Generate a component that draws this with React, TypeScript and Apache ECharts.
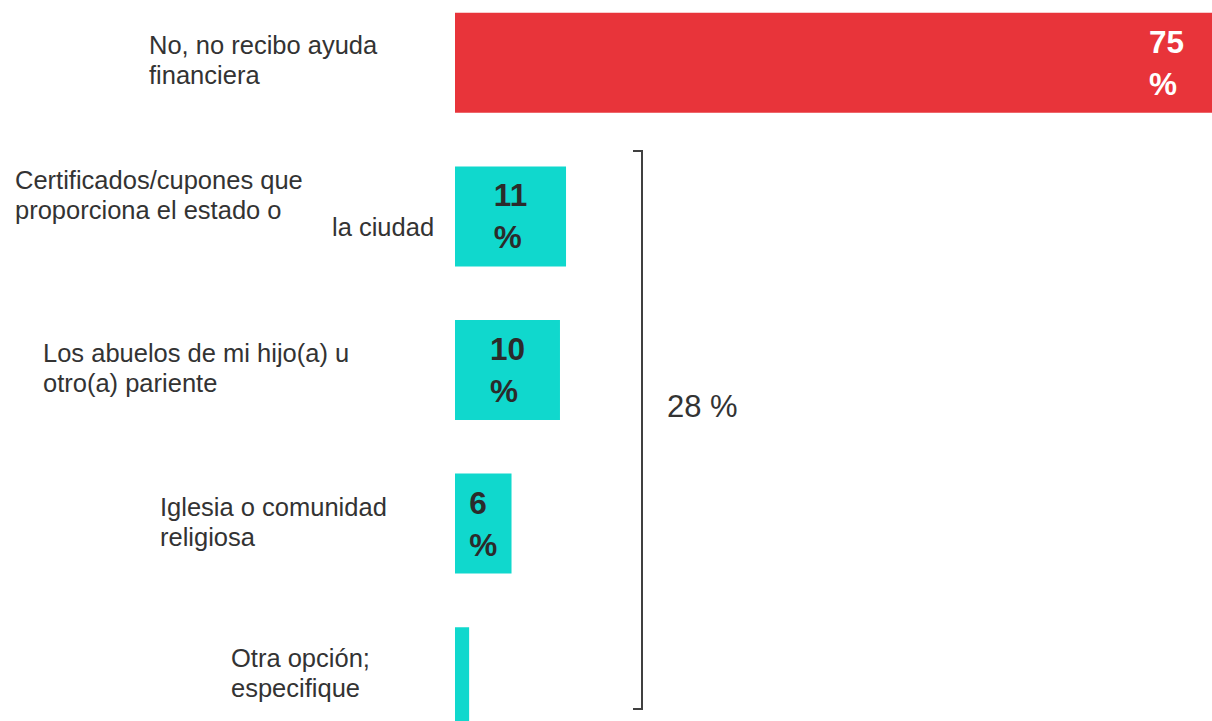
import React, { useEffect, useRef } from "react";
import * as echarts from "echarts";

const categories = [
  "No, no recibo ayuda financiera",
  "Certificados/cupones que proporciona el estado o la ciudad",
  "Los abuelos de mi hijo(a) u otro(a) pariente",
  "Iglesia o comunidad religiosa",
  "Otra opción; especifique",
];
const values = [75, 11, 10.4, 5.6, 1.4];
const barColors = ["#E8343A", "#10D8CD", "#10D8CD", "#10D8CD", "#10D8CD"];
const valueLabels = ["75", "11", "10", "6", ""];
const bracketLabel = "28 %";

const OFFSET = 14; // container starts 14px above the page top

export default function App() {
  const ref = useRef<HTMLDivElement>(null);
  useEffect(() => {
    if (!ref.current) return;
    const chart = echarts.init(ref.current, undefined, { renderer: "svg" });
    const font = "'Liberation Sans', Arial, sans-serif";
    const textColor = "#333333";
    const catText = (text: string, x: number, y: number) => ({
      type: "text",
      x,
      y: y + OFFSET,
      style: {
        text,
        fontFamily: font,
        fontSize: 25.5,
        lineHeight: 30,
        fill: textColor,
        align: "left",
        verticalAlign: "middle",
      },
    });
    chart.setOption({
      animation: false,
      grid: { left: 455, right: 0, top: 0, bottom: 0, containLabel: false },
      xAxis: {
        type: "value",
        min: 0,
        max: 75,
        show: false,
      },
      yAxis: {
        type: "category",
        data: categories,
        inverse: true,
        show: false,
      },
      series: [
        {
          type: "bar",
          barWidth: 100,
          data: values.map((v, i) => ({
            value: v,
            itemStyle: { color: barColors[i] },
            label: {
              show: valueLabels[i] !== "",
              position: i === 0 ? "insideRight" : "inside",
              distance: 28,
              formatter: valueLabels[i] ? `{a|${valueLabels[i]}}\n{a|%}` : "",
              rich: {
                a: {
                  align: "left",
                  fontFamily: font,
                  fontSize: 31.5,
                  fontWeight: "bold",
                  lineHeight: 42,
                  color: i === 0 ? "#ffffff" : "#2b2b2b",
                },
              },
            },
          })),
        },
      ],
      graphic: [
        catText("No, no recibo ayuda\nfinanciera", 149, 60),
        catText("Certificados/cupones que\nproporciona el estado o", 15, 195),
        catText("la ciudad", 332, 227),
        catText("Los abuelos de mi hijo(a) u\notro(a) pariente", 43, 368),
        catText("Iglesia o comunidad\nreligiosa", 160, 522),
        catText("Otra opción;\nespecifique", 231, 673),
        {
          type: "polyline",
          shape: {
            points: [
              [633, 151 + OFFSET],
              [642, 151 + OFFSET],
              [642, 709 + OFFSET],
              [633, 709 + OFFSET],
            ],
          },
          style: { stroke: "#404040", lineWidth: 2, fill: "none" },
        },
        {
          type: "text",
          x: 667,
          y: 406 + OFFSET,
          style: {
            text: bracketLabel,
            fontFamily: font,
            fontSize: 31,
            fill: textColor,
            align: "left",
            verticalAlign: "middle",
          },
        },
      ],
    });
    return () => chart.dispose();
  }, []);
  return (
    <div
      ref={ref}
      style={{ position: "fixed", left: 0, top: -OFFSET, width: 1212, height: 768, background: "#ffffff" }}
    />
  );
}
